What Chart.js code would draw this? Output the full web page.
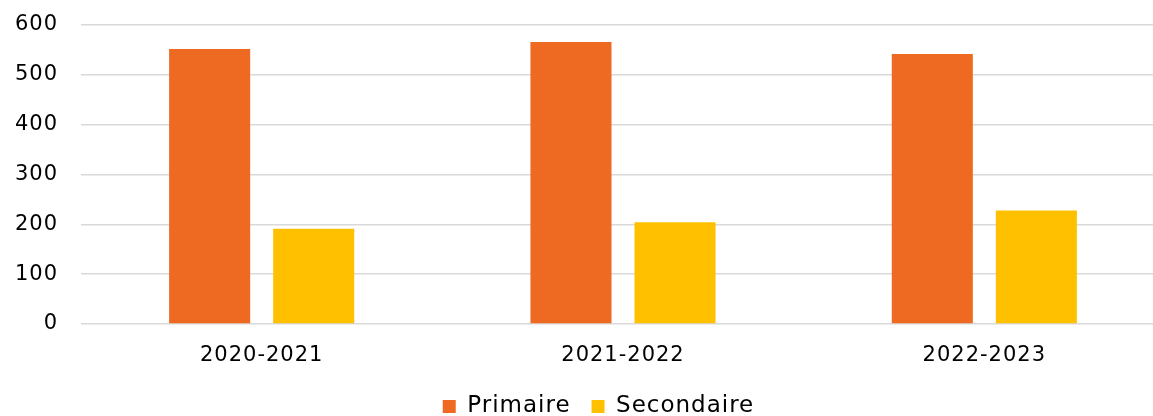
<!DOCTYPE html>
<html lang="fr">
<head>
<meta charset="utf-8">
<title>Primaire / Secondaire</title>
<script src="https://cdn.jsdelivr.net/npm/chart.js@4.4.1/dist/chart.umd.min.js"></script>
<style>
  html, body { margin: 0; padding: 0; background: #ffffff; overflow: hidden; }
  #wrap { position: relative; width: 1197px; height: 416px; }
</style>
</head>
<body>
<div id="wrap"><canvas id="chart"></canvas></div>
<script>
// Années scolaires
const categories = ['2020-2021', '2021-2022', '2022-2023'];
// Effectifs par niveau
const primaire = [552, 566, 542];
const secondaire = [191, 204, 228];
// Graduations de l'axe vertical
const yTicks = [0, 100, 200, 300, 400, 500, 600];

const FONT = 'DejaVu Sans';
const SPACING = '1px';
const TEXT = '#000000';

// Slightly wider letter spacing for all canvas text
const letterSpacingPlugin = {
  id: 'letterSpacing',
  beforeUpdate(chart) { chart.ctx.letterSpacing = SPACING; },
  beforeLayout(chart) { chart.ctx.letterSpacing = SPACING; },
  beforeDraw(chart) { chart.ctx.letterSpacing = SPACING; }
};

// Center the legend on the whole canvas rather than on the padded area
const legendSpanPlugin = {
  id: 'legendSpan',
  afterLayout(chart) {
    if (chart.legend) {
      chart.legend.left = 0;
      chart.legend.right = chart.width;
    }
  }
};

new Chart(document.getElementById('chart'), {
  type: 'bar',
  data: {
    labels: categories,
    datasets: [
      { label: 'Primaire', data: primaire, backgroundColor: '#EE6A22', borderWidth: 0 },
      { label: 'Secondaire', data: secondaire, backgroundColor: '#FFC000', borderWidth: 0 }
    ]
  },
  options: {
    responsive: true,
    maintainAspectRatio: false,
    animation: false,
    datasets: { bar: { categoryPercentage: 0.576, barPercentage: 0.779 } },
    layout: { padding: { top: 25, right: 32, bottom: -12, left: 0 } },
    plugins: {
      legend: {
        position: 'bottom',
        labels: {
          boxWidth: 13,
          boxHeight: 13,
          padding: 21,
          color: TEXT,
          font: { family: FONT, size: 23 }
        }
      },
      tooltip: { enabled: false }
    },
    scales: {
      x: {
        grid: { display: false, drawTicks: false },
        border: { display: false },
        ticks: { color: TEXT, padding: 19, font: { family: FONT, size: 21 } },
        afterFit(scale) { scale.height = 50; }
      },
      y: {
        min: yTicks[0],
        max: yTicks[yTicks.length - 1],
        afterBuildTicks(scale) { scale.ticks = yTicks.map(v => ({ value: v })); },
        grid: { color: '#d9d9d9', lineWidth: 1.5, drawTicks: false },
        border: { display: false },
        ticks: { color: TEXT, padding: 23, font: { family: FONT, size: 21 } },
        afterFit(scale) {
          scale.width = 81;
          scale.paddingTop = 0;
          scale.paddingBottom = 0;
        }
      }
    }
  },
  plugins: [letterSpacingPlugin, legendSpanPlugin]
});
</script>
</body>
</html>
